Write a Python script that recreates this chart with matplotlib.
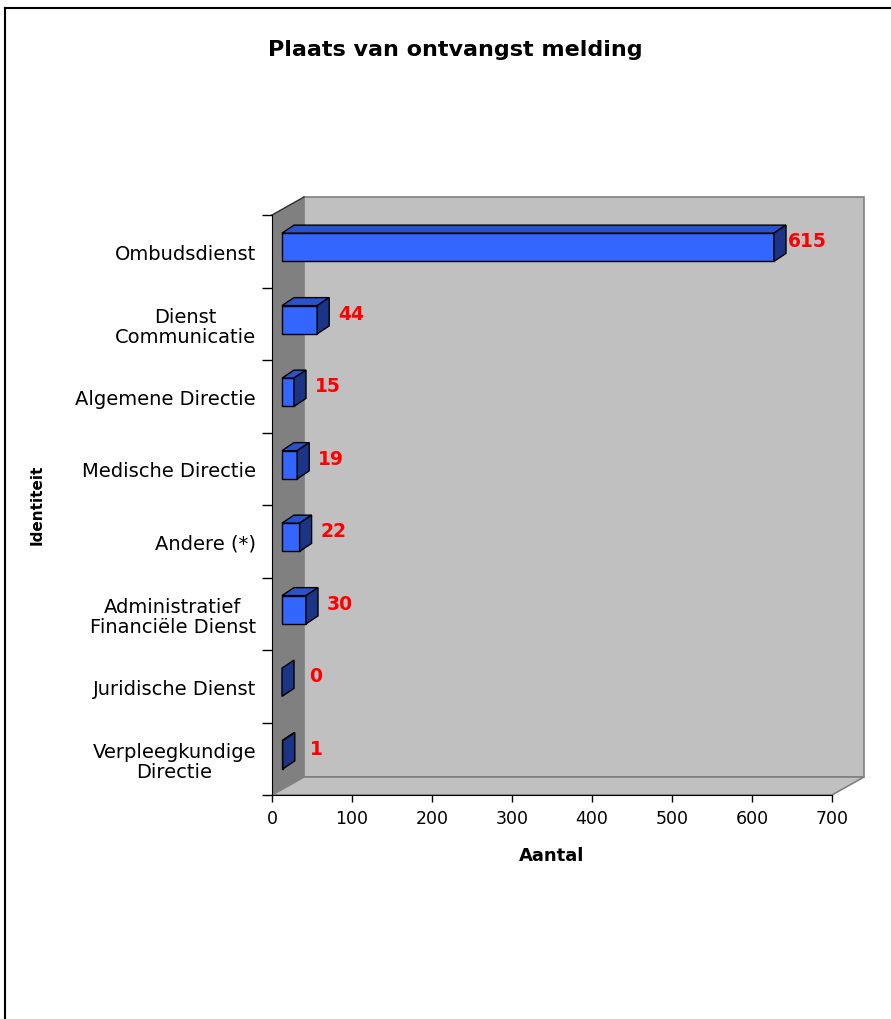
import matplotlib.pyplot as plt
from matplotlib.patches import Polygon
from matplotlib.lines import Line2D

categories = ['Ombudsdienst', 'Dienst\nCommunicatie', 'Algemene Directie',
              'Medische Directie', 'Andere (*)',
              'Administratief\nFinanciële Dienst', 'Juridische Dienst',
              'Verpleegkundige\nDirectie']
values = [615, 44, 15, 19, 22, 30, 0, 1]
xticks = [0, 100, 200, 300, 400, 500, 600, 700]

plt.rcParams['font.family'] = ['DejaVu Sans']

fig = plt.figure(figsize=(8.91, 10.2), dpi=100)
ax = fig.add_axes([272 / 891, 1 - 796 / 1020, 560 / 891, 580 / 1020])
ax.set_xlim(0, 700)
ax.set_ylim(len(categories), 0)
ax.set_facecolor('none')

# 3d look: depth of walls and bars, in data units (0.8 px per x unit, 72.5 px per slot)
wall_dx, wall_dy = 40, 18 / 72.5
bar_x0 = 12.5
bar_dx, bar_dy = 15, 8 / 72.5
n = len(categories)

# walls and floor
ax.add_patch(Polygon([(wall_dx, -wall_dy), (700 + wall_dx, -wall_dy),
                      (700 + wall_dx, n - wall_dy), (wall_dx, n - wall_dy)],
                     closed=True, fc='#c0c0c0', ec='#808080', lw=1.2,
                     clip_on=False, zorder=0))
ax.add_patch(Polygon([(0, 0), (wall_dx, -wall_dy), (wall_dx, n - wall_dy), (0, n)],
                     closed=True, fc='#808080', ec='none', clip_on=False, zorder=0.5))
ax.plot([0, wall_dx], [0, -wall_dy], color='#303030', lw=1, clip_on=False, zorder=0.6)
ax.add_patch(Polygon([(0, n), (wall_dx, n - wall_dy), (700 + wall_dx, n - wall_dy), (700, n)],
                     closed=True, fc='#c0c0c0', ec='#808080', lw=1.2,
                     clip_on=False, zorder=0.5))

# bars
for i, v in enumerate(values):
    x0, x1 = bar_x0, bar_x0 + v
    yt, yb = i + 0.25, i + 0.64
    front = [(x0, yt), (x1, yt), (x1, yb), (x0, yb)]
    top = [(x0, yt), (x0 + bar_dx, yt - bar_dy), (x1 + bar_dx, yt - bar_dy), (x1, yt)]
    side = [(x1, yt), (x1 + bar_dx, yt - bar_dy), (x1 + bar_dx, yb - bar_dy), (x1, yb)]
    if v > 0:
        ax.add_patch(Polygon(front, closed=True, fc='#3366ff', ec='black', lw=1, zorder=2))
        ax.add_patch(Polygon(top, closed=True, fc='#2a52cc', ec='black', lw=1, zorder=2))
    ax.add_patch(Polygon(side, closed=True, fc='#1c3486', ec='black', lw=1, zorder=2))
    ax.text(x1 + bar_dx + 27, (yt + yb) / 2 - 0.09, str(v), color='red',
            fontsize=13.5, fontweight='bold', ha='center', va='center', zorder=3)

# axes
for s in ['top', 'right']:
    ax.spines[s].set_visible(False)
ax.spines['left'].set_color('black')
ax.spines['bottom'].set_color('black')
ax.set_xticks(xticks)
ax.tick_params(axis='x', length=5, width=1, labelsize=12.5, pad=5)
ax.set_yticks(range(n + 1))
ax.set_yticklabels([])
ax.set_yticks([i + 0.5 for i in range(n)], minor=True)
ax.set_yticklabels(categories, minor=True, fontsize=14, ha='right',
                   multialignment='center', linespacing=1.1)
ax.tick_params(axis='y', which='major', length=7.2, width=1)
ax.tick_params(axis='y', which='minor', length=0, pad=11.5)

fig.text(455 / 891, 1 - 50 / 1020, 'Plaats van ontvangst melding',
         fontsize=16, fontweight='bold', ha='center', va='center')
fig.text(552 / 891, 1 - 856 / 1020, 'Aantal', fontsize=13, fontweight='bold',
         ha='center', va='center')
fig.text(37 / 891, 1 - 505 / 1020, 'Identiteit', fontsize=11, fontweight='bold',
         rotation=90, ha='center', va='center')

# chart frame
fig.add_artist(Line2D([5 / 891, 1.0], [1 - 9 / 1020, 1 - 9 / 1020], color='black', lw=1.5))
fig.add_artist(Line2D([5 / 891, 5 / 891], [0.0, 1 - 9 / 1020], color='black', lw=1.5))

fig.savefig('out.png', dpi=100, facecolor='white')
